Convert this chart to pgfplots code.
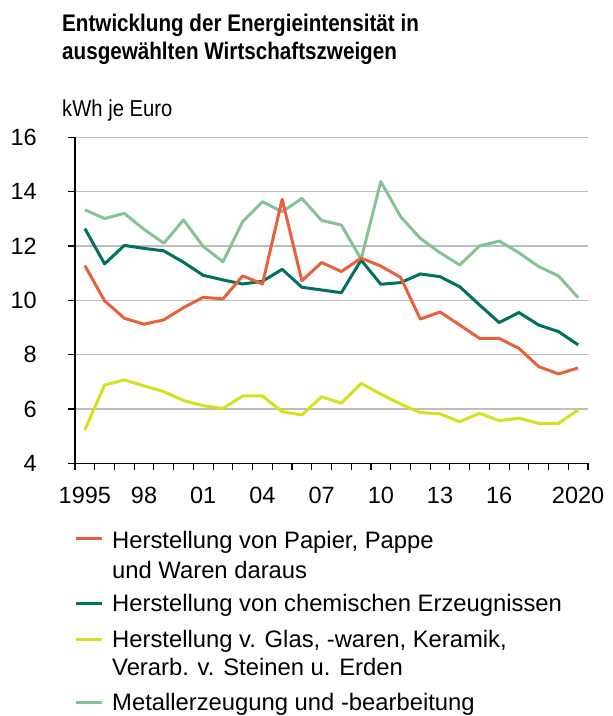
\documentclass[border=0pt]{standalone}
\usepackage{fontspec}
\setmainfont{Liberation Sans}
\newfontfamily\titlefont{Liberation Sans}[FakeStretch=0.86]
\newfontfamily\unitfont{Liberation Sans}[FakeStretch=0.88]
\usepackage{pgfplots}
\usepackage{pgfplotstable}
\pgfplotsset{compat=1.18}
\definecolor{cpap}{HTML}{E8603C}
\definecolor{cchem}{HTML}{00705F}
\definecolor{cglas}{HTML}{D5E01E}
\definecolor{cmet}{HTML}{84C494}
\definecolor{cgrid}{HTML}{BDBDBD}
\pgfplotstableread{
i pap chem glas met
0 11.28 12.64 5.23 13.33
1 9.98 11.34 6.88 13.01
2 9.34 12.02 7.07 13.20
3 9.12 11.91 6.85 12.61
4 9.28 11.82 6.64 12.10
5 9.73 11.40 6.31 12.96
6 10.11 10.92 6.12 11.98
7 10.05 10.75 6.02 11.42
8 10.90 10.60 6.48 12.90
9 10.60 10.70 6.48 13.63
10 13.72 11.14 5.90 13.26
11 10.72 10.48 5.78 13.75
12 11.39 10.38 6.45 12.94
13 11.06 10.28 6.21 12.77
14 11.55 11.48 6.94 11.51
15 11.26 10.59 6.55 14.37
16 10.85 10.65 6.18 13.08
17 9.31 10.97 5.87 12.28
18 9.57 10.87 5.82 11.75
19 9.09 10.50 5.53 11.30
20 8.60 9.83 5.84 12.00
21 8.60 9.18 5.57 12.18
22 8.23 9.55 5.66 11.75
23 7.56 9.09 5.47 11.24
24 7.29 8.85 5.47 10.90
25 7.51 8.36 5.96 10.10
}\data
\begin{document}
\begin{tikzpicture}[x=1pt,y=1pt]
\useasboundingbox (0,0) rectangle (613,716);
\begin{axis}[
  at={(75pt,252.7pt)}, anchor=south west,
  scale only axis, width=513pt, height=326pt,
  xmin=-0.5, xmax=25.5, ymin=4, ymax=16,
  axis x line=bottom, axis y line=left,
  axis line style={-, black, line width=1.3pt},
  xtick={-0.5,0.5,...,25.5},
  xticklabels={},
  extra x ticks={0,3,6,9,12,15,18,21,25},
  extra x tick labels={1995,98,01,04,07,10,13,16,2020},
  extra x tick style={major tick length=0pt, grid=none,
    xticklabel style={anchor=north, inner sep=0pt, yshift=-24pt}},
  ytick={4,6,...,16},
  ymajorgrids,
  grid style={cgrid, line width=1.5pt},
  tick pos=left,
  tick align=outside,
  major tick length=7pt,
  every tick/.style={black, line width=1.1pt},
  tick label style={font=\fontsize{23.5}{23.5}\selectfont},
  yticklabel style={anchor=east, inner sep=0pt, xshift=-31pt},
  /pgf/number format/assume math mode=true,
  clip=false,
]
\addplot[cmet, line width=3pt, line join=round] table[x=i,y=met] {\data};
\addplot[cglas, line width=3pt, line join=round] table[x=i,y=glas] {\data};
\addplot[cchem, line width=3pt, line join=round] table[x=i,y=chem] {\data};
\addplot[cpap, line width=3pt, line join=round] table[x=i,y=pap] {\data};
\end{axis}
% titles
\node[anchor=base west, inner sep=0] at (62,684.3) {\titlefont\bfseries\fontsize{24}{24}\selectfont Entwicklung der Energieintensität in};
\node[anchor=base west, inner sep=0] at (62,656) {\titlefont\bfseries\fontsize{24}{24}\selectfont ausgewählten Wirtschaftszweigen};
\node[anchor=base west, inner sep=0] at (62,599) {\unitfont\fontsize{23}{23}\selectfont kWh je Euro};
% legend
\begin{scope}[every node/.style={anchor=base west, inner sep=0, font=\fontsize{23.8}{23.8}\selectfont}]
\draw[cpap, line width=3pt] (76,177) -- (102,177);
\node at (112,167) {Herstellung von Papier, Pappe};
\node at (112,137) {und Waren daraus};
\draw[cchem, line width=3pt] (76,112) -- (102,112);
\node at (112,104) {Herstellung von chemischen Erzeugnissen};
\draw[cglas, line width=3pt] (76,76) -- (102,76);
\node at (112,68) {Herstellung v. Glas, -waren, Keramik,};
\node at (112,40) {Verarb. v. Steinen u. Erden};
\draw[cmet, line width=3pt] (76,13) -- (102,13);
\node at (112,5.5) {Metallerzeugung und -bearbeitung};
\end{scope}
\end{tikzpicture}
\end{document}
